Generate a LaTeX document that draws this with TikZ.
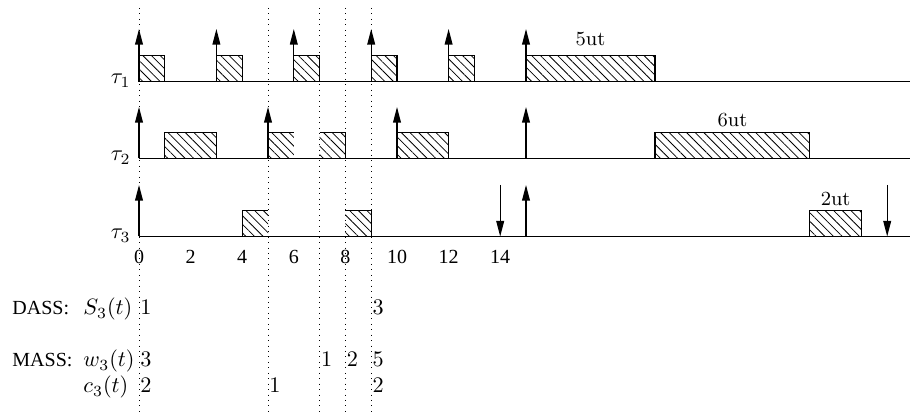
\documentclass[tikz,border=0pt]{standalone}
\usepackage{fontspec}
\newfontfamily\tms{Liberation Serif}
\usetikzlibrary{arrows.meta,patterns.meta}
\begin{document}
\begin{tikzpicture}[x=0.45pt,y=-0.45pt,
  declare function={tx(\t)=139+25.8*\t;},
  axisline/.style={line width=0.5pt},
  boxline/.style={line width=0.5pt},
  hatch/.style={pattern={Lines[angle=-45,distance=2.75pt,line width=0.35pt]}},
  rel/.style={line width=0.5pt,-{Triangle[length=7pt,width=3.5pt]}},
  guide/.style={dotted,line width=0.45pt},
  tms/.style={inner sep=0pt,font=\tms\fontsize{9}{11}\selectfont},
  dur/.style={inner sep=0pt,font=\fontsize{9}{11}\selectfont},
  mth/.style={inner sep=0pt}]
\useasboundingbox (0,0) rectangle (910,414);
% guide lines
\foreach \t in {0,5,7,8,9} \draw[guide] ({tx(\t)},8) -- ({tx(\t)},414);
% axes
\foreach \y in {81.5,158.5,236.5} \draw[axisline] ({tx(0)},\y) -- (910,\y);
% task labels
\node[mth,anchor=base east] (t1) at (131,84) {$\tau_1$};
\node[mth,anchor=base east] (t2) at (131,161) {$\tau_2$};
\node[mth,anchor=base east] (t3) at (131,239) {$\tau_3$};
% tau1 boxes
\foreach \a/\b in {0/1,3/4,6/7,9/10,12/13,15/20}{
  \fill[hatch] ({tx(\a)},81.5) rectangle ({tx(\b)},{81.5-25.8});
  \draw[boxline] ({tx(\a)},81.5) rectangle ({tx(\b)},{81.5-25.8});}
\foreach \t in {0,3,6,9,12,15} \draw[rel] ({tx(\t)},81.5) -- ({tx(\t)},29);
\node[dur,anchor=base] (u1) at ({tx(17.5)},46) {5ut};
% tau2 boxes
\foreach \a/\b in {1/3,10/12,20/26}{
  \fill[hatch] ({tx(\a)},158.5) rectangle ({tx(\b)},{158.5-25.8});
  \draw[boxline] ({tx(\a)},158.5) rectangle ({tx(\b)},{158.5-25.8});}
\fill[hatch] ({tx(5)},158.5) rectangle ({tx(6)},{158.5-25.8});
\draw[boxline] ({tx(5)},158.5) |- ({tx(6)},{158.5-25.8});
\fill[hatch] ({tx(7)},158.5) rectangle ({tx(8)},{158.5-25.8});
\draw[boxline] ({tx(7)},{158.5-25.8}) -| ({tx(8)},158.5);
\foreach \t in {0,5,10,15} \draw[rel] ({tx(\t)},158.5) -- ({tx(\t)},107);
\node[dur,anchor=base] (u2) at ({tx(23)},127) {6ut};
% tau3 boxes
\fill[hatch] ({tx(26)},236.5) rectangle ({tx(28)},{236.5-25.8});
\draw[boxline] ({tx(26)},236.5) rectangle ({tx(28)},{236.5-25.8});
\fill[hatch] ({tx(4)},236.5) rectangle ({tx(5)},{236.5-25.8});
\draw[boxline] ({tx(4)},236.5) |- ({tx(5)},{236.5-25.8});
\fill[hatch] ({tx(8)},236.5) rectangle ({tx(9)},{236.5-25.8});
\draw[boxline] ({tx(8)},{236.5-25.8}) -| ({tx(9)},236.5);
\foreach \t in {0,15} \draw[rel] ({tx(\t)},236.5) -- ({tx(\t)},185);
\foreach \t in {14,29} \draw[rel] ({tx(\t)},185) -- ({tx(\t)},236.5);
\node[dur,anchor=base] (u3) at ({tx(27)},206) {2ut};
% ticks
\foreach \t in {0,2,...,14} \node[tms] (k\t) at ({tx(\t)},257) {\t};
% DASS / MASS
\node[tms,anchor=base west] (dass) at (12,315) {DASS:};
\node[mth,anchor=base west] (s3) at (83,315) {$S_3(t)$};
\node[mth,anchor=base west] (s3a) at ({tx(0)+1},315) {$1$};
\node[mth,anchor=base west] (s3b) at ({tx(9)+1},315) {$3$};
\node[tms,anchor=base west] (mass) at (12,367) {MASS:};
\node[mth,anchor=base west] (w3) at (83,367) {$w_3(t)$};
\node[mth,anchor=base west] (w3a) at ({tx(0)+1},367) {$3$};
\node[mth,anchor=base west] (w3b) at ({tx(7)+1},367) {$1$};
\node[mth,anchor=base west] (w3c) at ({tx(8)+1},367) {$2$};
\node[mth,anchor=base west] (w3d) at ({tx(9)+1},367) {$5$};
\node[mth,anchor=base west] (c3) at (83,393) {$c_3(t)$};
\node[mth,anchor=base west] (c3a) at ({tx(0)+1},393) {$2$};
\node[mth,anchor=base west] (c3b) at ({tx(5)+1},393) {$1$};
\node[mth,anchor=base west] (c3c) at ({tx(9)+1},393) {$2$};
\end{tikzpicture}
\end{document}
